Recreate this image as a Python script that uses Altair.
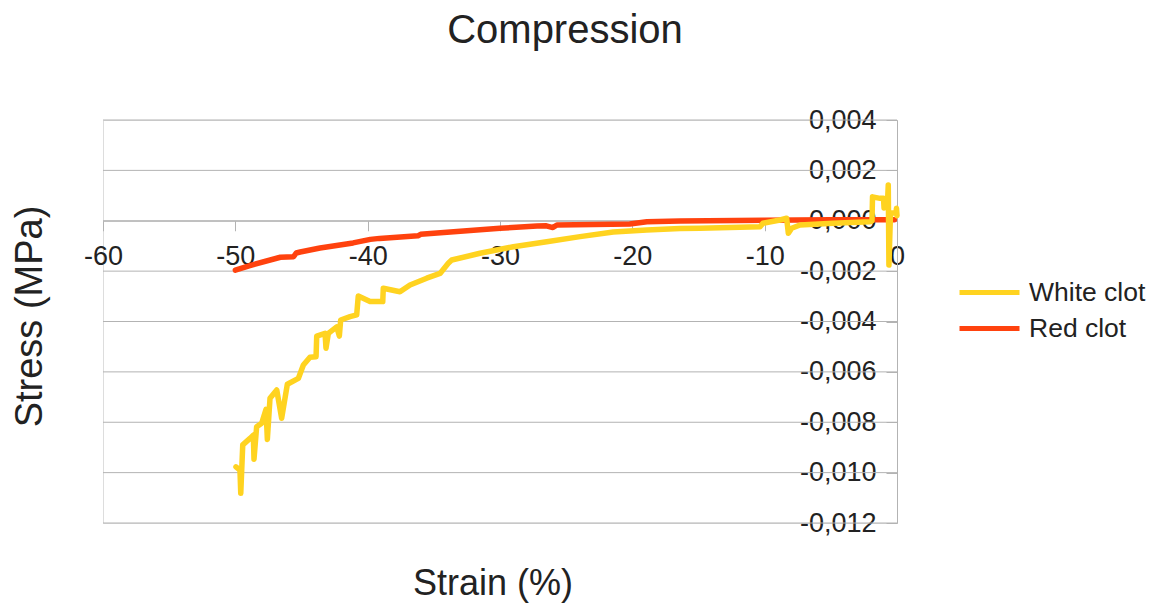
import altair as alt
import pandas as pd

# ---- data ----
white_strain = [-49.95, -49.65, -49.59, -49.44, -48.89, -48.64, -48.59, -48.39, -48.01, -47.68,
                -47.58, -47.38, -46.87, -46.50, -46.07, -45.24, -44.86, -44.36, -43.90, -43.85,
                -43.22, -43.15, -42.97, -42.34, -42.14, -42.04, -41.33, -40.83, -40.71, -39.82,
                -38.86, -38.82, -37.56, -36.80, -35.54, -34.53, -33.91, -33.65, -31.51, -28.99,
                -26.47, -23.95, -21.44, -18.91, -16.40, -14.89, -10.35, -10.13, -8.84, -8.34,
                -8.21, -7.96, -7.33, -4.84, -2.04, -1.89, -1.85, -1.28, -1.02, -0.98,
                -0.83, -0.72, -0.66, -0.61, -0.49, -0.07, -0.04, 0.0]
white_stress = [-0.00977, -0.00990, -0.01082, -0.00890, -0.00864, -0.00851, -0.00947, -0.00818, -0.00804, -0.00749,
                -0.00868, -0.00705, -0.00672, -0.00784, -0.00649, -0.00626, -0.00573, -0.00542, -0.00540, -0.00458,
                -0.00447, -0.00506, -0.00447, -0.00421, -0.00458, -0.00394, -0.00381, -0.00374, -0.00299, -0.00321,
                -0.00321, -0.00268, -0.00282, -0.00255, -0.00228, -0.00209, -0.00169, -0.00156, -0.00129, -0.00103,
                -0.00083, -0.00063, -0.00045, -0.00037, -0.00031, -0.00030, -0.00024, -0.00010, 0.00003, 0.00010,
                -0.00050, -0.00030, -0.00017, -0.00010, -0.00004, -0.00001, 0.00095, 0.00089, 0.00089, 0.00051,
                0.00070, 0.00070, 0.00142, -0.00176, 0.00031, 0.00031, 0.00050, 0.00020]

red_strain = [-50.0, -48.9, -46.6, -45.6, -45.4, -45.1, -43.6, -41.1, -39.8, -39.1,
              -36.2, -36.0, -30.0, -27.2, -26.5, -26.0, -25.7, -20.2, -18.9, -16.4,
              -10.0, -5.0, -0.2]
red_stress = [-0.00196, -0.00178, -0.00145, -0.00143, -0.00128, -0.00124, -0.00108, -0.00088, -0.00074, -0.00070,
              -0.00060, -0.00054, -0.00030, -0.00021, -0.00020, -0.00027, -0.00017, -0.00013, -0.00004, -0.00001,
              0.00002, 0.00004, 0.00004]

series_names = ["White clot", "Red clot"]
series_colors = ["#ffd320", "#ff420e"]

x_ticks = [-60, -50, -40, -30, -20, -10, 0]
y_ticks = [0.004, 0.002, 0.0, -0.002, -0.004, -0.006, -0.008, -0.010, -0.012]

# ---- tables ----
white = pd.DataFrame({"strain": white_strain, "stress": white_stress,
                      "series": series_names[0], "i": range(len(white_strain))})
red = pd.DataFrame({"strain": red_strain, "stress": red_stress,
                    "series": series_names[1], "i": range(len(red_strain))})
grid = pd.DataFrame({"v": y_ticks})

W, H = 794, 403
FONT = "Liberation Sans"
TXT = "#222222"
GRID = "#b3b3b3"

xscale = alt.Scale(domain=[-60, 0], nice=False, zero=False)
yscale = alt.Scale(domain=[-0.012, 0.004], nice=False, zero=False)
cscale = alt.Scale(domain=series_names, range=series_colors)

y0_px = H * (0.004 - 0.0) / 0.016  # pixel of y=0 from top

x_axis = alt.Axis(
    values=x_ticks, grid=False, orient="bottom", offset=y0_px - H,
    domainColor=GRID, tickColor=GRID, tickSize=10, labelPadding=13, labelFlush=False,
    labelFontSize=27, labelFont=FONT, labelColor=TXT,
    labelExpr="(datum.value < 0 ? '-' : '') + abs(datum.value)",
    title="Strain (%)", titleFontSize=36, titleFont=FONT, titleColor=TXT,
    titleFontWeight="normal", titleX=389.5, titleY=374, titleAlign="center",
    titleBaseline="alphabetic", titleAngle=0,
)
y_axis = alt.Axis(
    values=y_ticks, grid=False, orient="left", offset=-W,
    domainColor=GRID, tickColor=GRID, tickSize=11, labelPadding=10, labelFlush=False,
    labelFontSize=27, labelFont=FONT, labelColor=TXT,
    labelExpr="(datum.value < -0.0000001 ? '-' : '') + replace(format(abs(datum.value), '.3f'), '.', ',')",
    title="Stress (MPa)", titleFontSize=38, titleFont=FONT, titleColor=TXT,
    titleFontWeight="normal", titleX=41 - (103 + W), titleY=196, titleAngle=-90,
    titleAlign="center", titleBaseline="alphabetic",
)

grid_layer = alt.Chart(grid).mark_rule(color=GRID, strokeWidth=1).encode(
    y=alt.Y("v:Q", scale=yscale, axis=y_axis)
)

legend = alt.Legend(
    title=None, orient="none", legendX=872, legendY=158,
    symbolType="M-2.5,0H2.5", symbolSize=576, symbolStrokeWidth=5,
    labelFontSize=26.5, labelFont=FONT, labelColor=TXT, labelOffset=25,
    rowPadding=8, padding=0, labelLimit=300,
)

def line_layer(df):
    return alt.Chart(df).mark_line(strokeWidth=5.5, strokeJoin="round", strokeCap="round").encode(
        x=alt.X("strain:Q", scale=xscale, axis=x_axis),
        y=alt.Y("stress:Q", scale=yscale, axis=y_axis),
        color=alt.Color("series:N", scale=cscale, legend=legend),
        order="i:Q",
    )

chart = alt.layer(grid_layer, line_layer(red), line_layer(white)).properties(
    width=W, height=H,
    title=alt.TitleParams("Compression", fontSize=40, font=FONT, color=TXT, fontWeight="normal",
                          anchor="middle", dx=65, offset=23, baseline="alphabetic", frame="group"),
    autosize=alt.AutoSizeParams(type="none"),
    padding={"left": 95, "top": 112, "right": 252, "bottom": 80},
).configure_view(stroke=GRID, strokeWidth=1).configure(background="white")

chart.save("out.html", embed_options={"renderer": "svg", "actions": False})
